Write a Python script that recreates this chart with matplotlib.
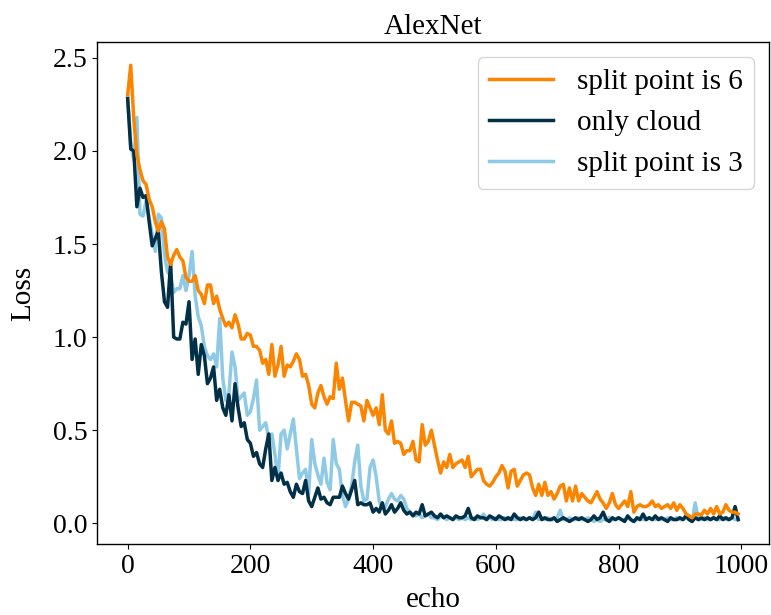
import numpy as np
import matplotlib
matplotlib.use("Agg")
import matplotlib.pyplot as plt

# Loss, one value every 5 echoes (0 .. 995)
echo = np.arange(0, 1000, 5)

split6 = [
    2.30, 2.46, 2.17, 1.98, 1.90, 1.84, 1.82, 1.74, 1.70, 1.62,
    1.57, 1.62, 1.58, 1.43, 1.39, 1.44, 1.47, 1.43, 1.41, 1.32,
    1.30, 1.30, 1.33, 1.25, 1.23, 1.18, 1.28, 1.28, 1.18, 1.22,
    1.15, 1.10, 1.06, 1.08, 1.05, 1.12, 1.07, 0.99, 0.99, 1.02,
    1.01, 0.95, 0.95, 0.93, 0.86, 0.88, 0.80, 0.96, 0.79, 0.85,
    0.95, 0.79, 0.85, 0.84, 0.87, 0.91, 0.88, 0.79, 0.80, 0.74,
    0.64, 0.62, 0.70, 0.74, 0.68, 0.64, 0.68, 0.67, 0.86, 0.72,
    0.78, 0.66, 0.55, 0.65, 0.65, 0.64, 0.63, 0.55, 0.66, 0.62,
    0.58, 0.62, 0.53, 0.69, 0.50, 0.48, 0.55, 0.43, 0.44, 0.43,
    0.37, 0.39, 0.39, 0.44, 0.34, 0.33, 0.53, 0.42, 0.44, 0.50,
    0.42, 0.34, 0.27, 0.33, 0.30, 0.37, 0.30, 0.32, 0.33, 0.34,
    0.30, 0.36, 0.25, 0.27, 0.29, 0.29, 0.23, 0.21, 0.20, 0.22,
    0.25, 0.27, 0.31, 0.28, 0.19, 0.28, 0.29, 0.20, 0.23, 0.26,
    0.27, 0.26, 0.19, 0.15, 0.21, 0.15, 0.22, 0.15, 0.17, 0.13,
    0.16, 0.20, 0.21, 0.12, 0.19, 0.12, 0.20, 0.12, 0.16, 0.14,
    0.12, 0.11, 0.14, 0.17, 0.13, 0.11, 0.08, 0.11, 0.16, 0.10,
    0.08, 0.10, 0.12, 0.09, 0.17, 0.06, 0.09, 0.10, 0.09, 0.09,
    0.10, 0.12, 0.09, 0.10, 0.08, 0.09, 0.10, 0.08, 0.11, 0.07,
    0.10, 0.08, 0.05, 0.04, 0.03, 0.05, 0.05, 0.045, 0.07, 0.05,
    0.08, 0.05, 0.09, 0.05, 0.06, 0.10, 0.07, 0.06, 0.06, 0.05,
]

only_cloud = [
    2.28, 2.01, 2.00, 1.70, 1.80, 1.75, 1.76, 1.62, 1.49, 1.53,
    1.57, 1.35, 1.19, 1.16, 1.40, 1.00, 0.99, 0.99, 1.08, 1.07,
    1.19, 0.88, 0.99, 0.80, 0.96, 0.90, 0.75, 0.78, 0.84, 0.66,
    0.72, 0.62, 0.58, 0.69, 0.55, 0.75, 0.62, 0.52, 0.54, 0.45,
    0.43, 0.36, 0.38, 0.32, 0.30, 0.40, 0.48, 0.23, 0.30, 0.23,
    0.27, 0.21, 0.22, 0.17, 0.14, 0.21, 0.17, 0.16, 0.23, 0.12,
    0.09, 0.14, 0.19, 0.13, 0.14, 0.11, 0.10, 0.14, 0.14, 0.14,
    0.20, 0.16, 0.13, 0.18, 0.23, 0.10, 0.11, 0.10, 0.10, 0.11,
    0.06, 0.08, 0.06, 0.11, 0.05, 0.07, 0.10, 0.06, 0.08, 0.11,
    0.07, 0.05, 0.06, 0.04, 0.06, 0.05, 0.10, 0.04, 0.05, 0.06,
    0.04, 0.03, 0.05, 0.03, 0.04, 0.03, 0.02, 0.04, 0.03, 0.03,
    0.04, 0.08, 0.03, 0.02, 0.04, 0.03, 0.03, 0.02, 0.04, 0.03,
    0.02, 0.04, 0.03, 0.02, 0.03, 0.02, 0.05, 0.03, 0.02, 0.03,
    0.02, 0.03, 0.02, 0.03, 0.06, 0.02, 0.03, 0.02, 0.02, 0.03,
    0.01, 0.02, 0.03, 0.02, 0.01, 0.02, 0.03, 0.02, 0.03, 0.02,
    0.01, 0.02, 0.04, 0.02, 0.03, 0.06, 0.02, 0.01, 0.03, 0.02,
    0.03, 0.02, 0.01, 0.04, 0.02, 0.01, 0.03, 0.02, 0.05, 0.02,
    0.03, 0.02, 0.04, 0.02, 0.03, 0.02, 0.01, 0.03, 0.02, 0.02,
    0.03, 0.02, 0.04, 0.02, 0.01, 0.03, 0.02, 0.03, 0.02, 0.03,
    0.02, 0.03, 0.02, 0.04, 0.02, 0.03, 0.02, 0.03, 0.09, 0.02,
]

split3 = [
    2.29, 2.05, 1.95, 2.18, 1.66, 1.65, 1.73, 1.64, 1.55, 1.46,
    1.66, 1.64, 1.44, 1.35, 1.33, 1.24, 1.26, 1.26, 1.33, 1.25,
    1.33, 1.46, 1.22, 1.11, 1.06, 0.95, 0.90, 0.88, 0.91, 0.84,
    1.10, 0.78, 0.66, 0.70, 0.92, 0.84, 0.66, 0.68, 0.70, 0.58,
    0.60, 0.67, 0.77, 0.50, 0.52, 0.54, 0.45, 0.48, 0.37, 0.24,
    0.48, 0.50, 0.40, 0.48, 0.56, 0.40, 0.24, 0.27, 0.29, 0.16,
    0.45, 0.32, 0.26, 0.21, 0.35, 0.22, 0.18, 0.45, 0.32, 0.29,
    0.15, 0.09, 0.13, 0.20, 0.33, 0.42, 0.20, 0.12, 0.13, 0.30,
    0.34, 0.25, 0.12, 0.08, 0.09, 0.13, 0.16, 0.13, 0.12, 0.15,
    0.13, 0.08, 0.06, 0.05, 0.04, 0.05, 0.03, 0.04, 0.05, 0.03,
    0.03, 0.02, 0.04, 0.03, 0.02, 0.03, 0.02, 0.03, 0.02, 0.03,
    0.02, 0.03, 0.02, 0.03, 0.02, 0.03, 0.05, 0.02, 0.03, 0.02,
    0.03, 0.02, 0.02, 0.03, 0.02, 0.03, 0.02, 0.02, 0.03, 0.02,
    0.02, 0.03, 0.02, 0.06, 0.02, 0.03, 0.02, 0.03, 0.02, 0.02,
    0.03, 0.07, 0.02, 0.02, 0.03, 0.02, 0.02, 0.03, 0.02, 0.02,
    0.03, 0.02, 0.01, 0.02, 0.01, 0.02, 0.02, 0.03, 0.02, 0.02,
    0.03, 0.02, 0.02, 0.03, 0.02, 0.01, 0.02, 0.03, 0.02, 0.02,
    0.03, 0.02, 0.02, 0.03, 0.02, 0.02, 0.03, 0.02, 0.02, 0.03,
    0.02, 0.02, 0.03, 0.02, 0.01, 0.11, 0.02, 0.02, 0.03, 0.02,
    0.02, 0.03, 0.02, 0.02, 0.03, 0.02, 0.02, 0.03, 0.02, 0.02,
]

labels = ["split point is 6", "only cloud", "split point is 3"]
colors = ["#fb8500", "#023047", "#8ecae6"]

plt.rcParams["font.family"] = ["Liberation Serif", "DejaVu Serif"]

fig = plt.figure(figsize=(7.71, 6.15), dpi=100)
ax = fig.add_axes([0.126, 0.115, 0.871, 0.816])

# orange on top, then dark, light blue underneath (legend keeps plot order)
for series, lab, col, z in zip([split6, only_cloud, split3], labels, colors, [3, 2, 1]):
    ax.plot(echo, series, color=col, linewidth=2.5, label=lab, zorder=z)

ax.set_title("AlexNet", fontsize=21)
ax.set_xlabel("echo", fontsize=21, labelpad=6)
ax.set_ylabel("Loss", fontsize=21, labelpad=12)
ax.set_xticks([0, 200, 400, 600, 800, 1000])
ax.set_yticks([0.0, 0.5, 1.0, 1.5, 2.0, 2.5])
ax.tick_params(labelsize=20)
for s in ax.spines.values():
    s.set_linewidth(1.0)

ax.legend(loc="upper right", fontsize=21, handlelength=2.2)

fig.savefig("out.png", dpi=100)
